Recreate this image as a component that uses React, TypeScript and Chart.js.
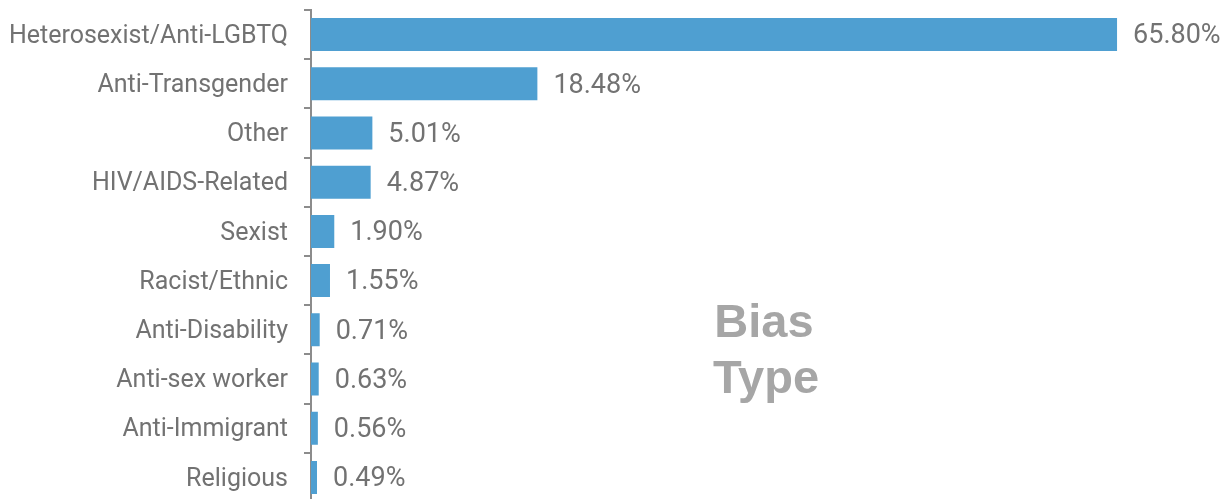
import React, { useEffect, useRef } from "react";
import { Chart, registerables } from "chart.js";

Chart.register(...registerables);

const categories = [
  "Heterosexist/Anti-LGBTQ",
  "Anti-Transgender",
  "Other",
  "HIV/AIDS-Related",
  "Sexist",
  "Racist/Ethnic",
  "Anti-Disability",
  "Anti-sex worker",
  "Anti-Immigrant",
  "Religious",
];
const values = [65.8, 18.48, 5.01, 4.87, 1.9, 1.55, 0.71, 0.63, 0.56, 0.49];
const valueLabels = ["65.80%", "18.48%", "5.01%", "4.87%", "1.90%", "1.55%", "0.71%", "0.63%", "0.56%", "0.49%"];
const titleLines = ["Bias", "Type"];

const FONT = "Roboto, 'Liberation Sans', Arial, sans-serif";
const TITLE_FONT = "'Liberation Sans', Arial, sans-serif";
const TEXT = "#727272";

const labelPlugin = {
  id: "valueLabels",
  afterDatasetsDraw(chart: any) {
    const ctx = chart.ctx;
    const meta = chart.getDatasetMeta(0);
    ctx.save();
    ctx.font = `27px ${FONT}`;
    ctx.fillStyle = TEXT;
    ctx.textAlign = "left";
    ctx.textBaseline = "middle";
    meta.data.forEach((bar: any, i: number) => {
      ctx.fillText(valueLabels[i], bar.x + 16, bar.y + 2);
    });
    ctx.font = `bold 47px ${TITLE_FONT}`;
    ctx.fillStyle = "#a6a6a6";
    ctx.textAlign = "center";
    ctx.textBaseline = "alphabetic";
    ctx.fillText(titleLines[0], 764, 337);
    ctx.fillText(titleLines[1], 766, 393);
    ctx.restore();
  },
};

export default function App() {
  const ref = useRef<HTMLCanvasElement>(null);
  useEffect(() => {
    const chart = new Chart(ref.current!, {
      type: "bar",
      data: {
        labels: categories,
        datasets: [
          {
            data: values,
            backgroundColor: "#4f9fd1",
            barPercentage: 0.67,
            categoryPercentage: 1,
          },
        ],
      },
      options: {
        indexAxis: "y",
        animation: false,
        responsive: false,
        maintainAspectRatio: false,
        layout: { padding: { top: 10, right: 59.5, bottom: 3, left: 0 } },
        plugins: { legend: { display: false }, tooltip: { enabled: false } },
        scales: {
          x: { display: false, min: 0, max: 70 },
          y: {
            afterFit(scale: any) {
              scale.width = 311;
              scale.paddingTop = 0;
              scale.paddingBottom = 0;
            },
            border: { display: true, color: "#8c8c8c", width: 2 },
            grid: {
              offset: true,
              drawOnChartArea: false,
              drawTicks: true,
              tickLength: 7,
              color: "#8c8c8c",
              lineWidth: 2,
            },
            ticks: {
              padding: 16,
              labelOffset: 2,
              color: TEXT,
              font: { family: FONT, size: 25 },
            },
          },
        },
      },
      plugins: [labelPlugin],
    });
    return () => chart.destroy();
  }, []);
  return (
    <div style={{ position: "fixed", left: 0, top: 0, width: 1228, height: 505, background: "#fff" }}>
      <canvas ref={ref} width={1228} height={505} style={{ width: 1228, height: 505 }} />
    </div>
  );
}
